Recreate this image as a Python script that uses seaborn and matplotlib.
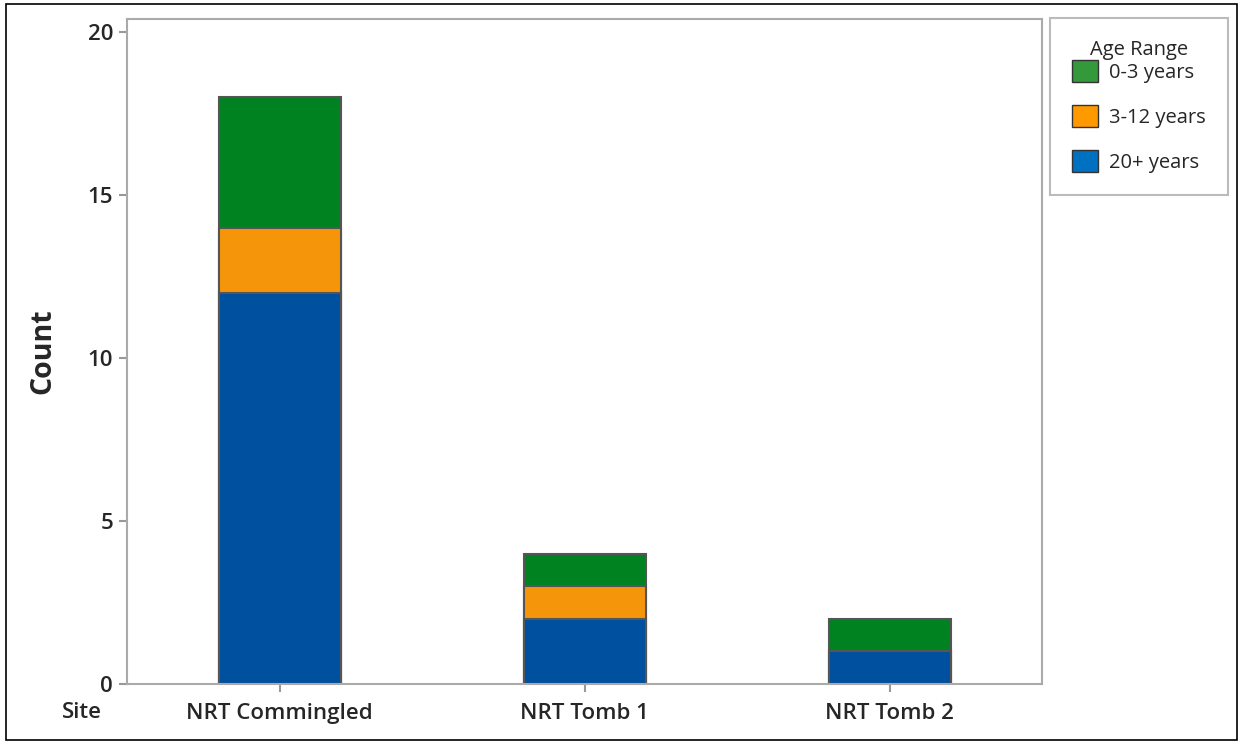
import matplotlib
matplotlib.use("Agg")
import matplotlib.pyplot as plt
import matplotlib.patches as mpatches
import seaborn as sns
import pandas as pd
import numpy as np

# data
sites = ["NRT Commingled", "NRT Tomb 1", "NRT Tomb 2"]
age_groups = ["0-3 years", "3-12 years", "20+ years"]
adult = [12, 2, 1]
child = [2, 1, 0]
infant = [4, 1, 1]

bar_colors = {"0-3 years": "#008220", "3-12 years": "#f5960a", "20+ years": "#0050a0"}
legend_colors = {"0-3 years": "#33993a", "3-12 years": "#ff9900", "20+ years": "#0070c0"}

sns.set_theme(style="white")
plt.rcParams["font.family"] = ["Open Sans", "DejaVu Sans"]

df = pd.DataFrame({"Site": sites, "adult": adult, "child": child, "infant": infant})
df["top_child"] = df["adult"] + df["child"]
df["top_infant"] = df["top_child"] + df["infant"]

fig = plt.figure(figsize=(12.41, 7.42), dpi=100)
ax = fig.add_axes([127 / 1241, 1 - 684 / 742, (1042 - 127) / 1241, (684 - 19) / 742])

edge = "#555555"
sns.barplot(data=df, x="Site", y="top_infant", color=bar_colors["0-3 years"], width=0.4,
            edgecolor=edge, linewidth=1.5, saturation=1, ax=ax)
sns.barplot(data=df, x="Site", y="top_child", color=bar_colors["3-12 years"], width=0.4,
            edgecolor=edge, linewidth=1.5, saturation=1, ax=ax)
sns.barplot(data=df, x="Site", y="adult", color=bar_colors["20+ years"], width=0.4,
            edgecolor=edge, linewidth=1.5, saturation=1, ax=ax)

ax.set_xlim(-0.5, 2.5)
ax.set_ylim(0, 20.4)
ax.set_yticks([0, 5, 10, 15, 20])
ax.set_xlabel("")
ax.set_ylabel("Count", fontsize=20.5, fontweight="bold", labelpad=22)
for s in ax.spines.values():
    s.set_color("#aaaaaa")
    s.set_linewidth(1.5)
ax.tick_params(axis="both", which="major", length=6, width=1.5, color="#999999",
               labelsize=16, pad=4, left=True, bottom=True)
ax.tick_params(axis="x", pad=8)
for lab in ax.get_xticklabels() + ax.get_yticklabels():
    lab.set_fontweight("semibold")

fig.text(82 / 1241, 1 - 712 / 742, "Site", fontsize=16, fontweight="semibold",
         ha="center", va="center")

handles = [mpatches.Patch(facecolor=legend_colors[g], edgecolor="#333333", label=g)
           for g in age_groups]
leg = fig.legend(handles=handles, title="Age Range", loc="upper left",
                 bbox_to_anchor=(1050 / 1241, 1 - 18 / 742), frameon=True, fancybox=False,
                 fontsize=14.5, title_fontsize=14.5, borderpad=1.1, labelspacing=1.1,
                 handlelength=1.3, handleheight=1.3, handletextpad=0.55, borderaxespad=0)
leg.get_frame().set_edgecolor("#aaaaaa")
leg.get_frame().set_linewidth(1.5)
leg._legend_box.align = "center"
leg._legend_box.sep = 0

# outer border
fig.patches.append(mpatches.Rectangle((6 / 1241, 2 / 742), 1 - 10 / 1241, 1 - 6 / 742,
                                      transform=fig.transFigure, fill=False,
                                      edgecolor="black", linewidth=1.2))

fig.savefig("out.png", dpi=100)
